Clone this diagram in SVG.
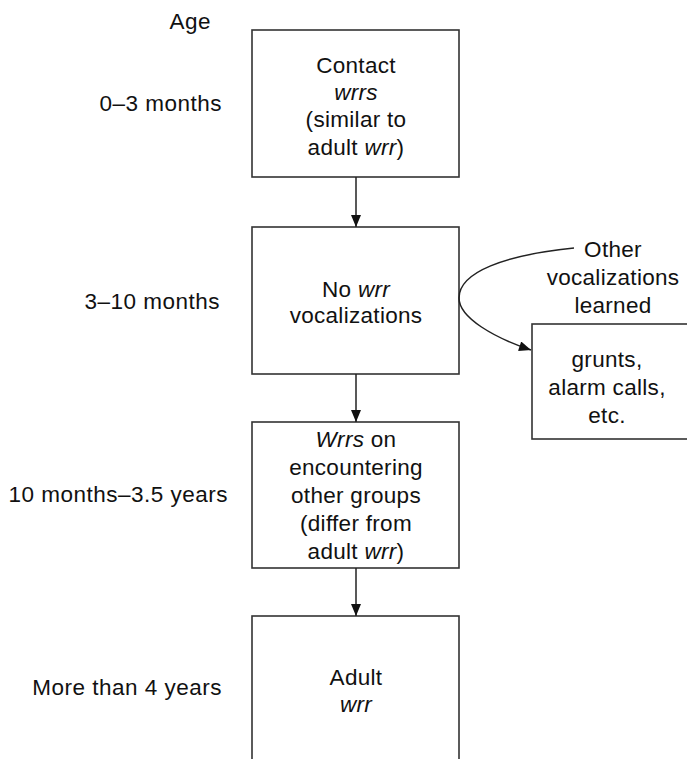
<svg xmlns="http://www.w3.org/2000/svg" width="687" height="759" viewBox="0 0 687 759">
<style>
.box{fill:#fff;stroke:#333;stroke-width:1.6}
.t{font-family:"Liberation Sans",Arial,sans-serif;font-size:22.5px;letter-spacing:0.3px;fill:#111;text-anchor:middle}
.lab{font-family:"Liberation Sans",Arial,sans-serif;font-size:22.5px;letter-spacing:0.5px;fill:#111;text-anchor:end}
.i{font-style:italic}
.c{fill:none;stroke:#222;stroke-width:1.5}
</style>
<defs>
<marker id="ah" viewBox="0 0 12 10" refX="12" refY="5" markerWidth="13" markerHeight="10" markerUnits="userSpaceOnUse" orient="auto">
<path d="M0,0 L12,5 L0,10 z" fill="#111"/>
</marker>
</defs>
<rect width="687" height="759" fill="#fff"/>
<g id="age-labels">
<text class="lab" x="211" y="29">Age</text>
<text class="lab" x="222" y="111">0–3 months</text>
<text class="lab" x="220" y="309">3–10 months</text>
<text class="lab" x="228" y="502">10 months–3.5 years</text>
<text class="lab" x="222" y="695">More than 4 years</text>
</g>
<g id="node-contact">
<rect class="box" x="252" y="30" width="207" height="147"/>
<text class="t" x="356" y="73">Contact</text>
<text class="t i" x="356" y="100">wrrs</text>
<text class="t" x="356" y="127">(similar to</text>
<text class="t" x="356" y="155">adult <tspan class="i">wrr</tspan>)</text>
</g>
<g id="node-nowrr">
<rect class="box" x="252" y="227" width="207" height="147"/>
<text class="t" x="356" y="297">No <tspan class="i">wrr</tspan></text>
<text class="t" x="356" y="323">vocalizations</text>
</g>
<g id="node-encounter">
<rect class="box" x="252" y="422" width="207" height="146"/>
<text class="t" x="356" y="447"><tspan class="i">Wrrs</tspan> on</text>
<text class="t" x="356" y="475">encountering</text>
<text class="t" x="356" y="503">other groups</text>
<text class="t" x="356" y="531">(differ from</text>
<text class="t" x="356" y="559">adult <tspan class="i">wrr</tspan>)</text>
</g>
<g id="node-adult">
<rect class="box" x="252" y="616" width="207" height="160"/>
<text class="t" x="356" y="685">Adult</text>
<text class="t i" x="356" y="712">wrr</text>
</g>
<g id="node-other-label">
<text class="t" x="613" y="257">Other</text>
<text class="t" x="613" y="285">vocalizations</text>
<text class="t" x="613" y="313">learned</text>
</g>
<g id="node-grunts">
<rect class="box" x="532" y="324" width="160" height="115"/>
<text class="t" x="607" y="367">grunts,</text>
<text class="t" x="607" y="395">alarm calls,</text>
<text class="t" x="607" y="423">etc.</text>
</g>
<g id="connectors">
<line class="c" x1="356" y1="177" x2="356" y2="227" marker-end="url(#ah)"/>
<line class="c" x1="356" y1="374" x2="356" y2="422" marker-end="url(#ah)"/>
<line class="c" x1="356" y1="568" x2="356" y2="616" marker-end="url(#ah)"/>
<path class="c" d="M574,248 C505,255 459,272 459,298 C459,318 495,338 531,350" marker-end="url(#ah)"/>
</g>
</svg>
